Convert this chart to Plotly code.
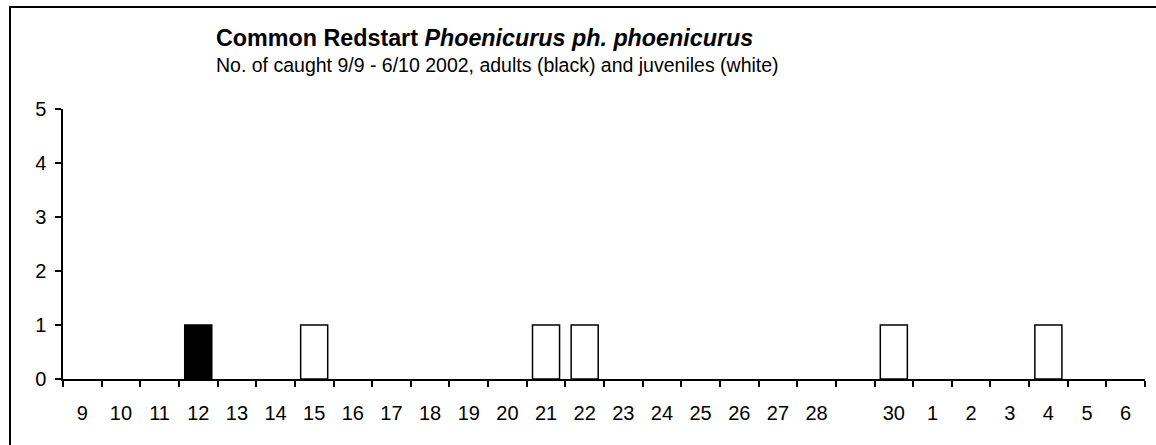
import plotly.graph_objects as go

categories = ["9", "10", "11", "12", "13", "14", "15", "16", "17", "18", "19", "20",
              "21", "22", "23", "24", "25", "26", "27", "28", "29", "30",
              "1", "2", "3", "4", "5", "6"]
tick_labels = ["9", "10", "11", "12", "13", "14", "15", "16", "17", "18", "19", "20",
               "21", "22", "23", "24", "25", "26", "27", "28", "", "30",
               "1", "2", "3", "4", "5", "6"]
adults = [0, 0, 0, 1, 0, 0, 0, 0, 0, 0, 0, 0, 0, 0, 0, 0, 0, 0, 0, 0, 0, 0, 0, 0, 0, 0, 0, 0]
juveniles = [0, 0, 0, 0, 0, 0, 1, 0, 0, 0, 0, 0, 1, 1, 0, 0, 0, 0, 0, 0, 0, 1, 0, 0, 0, 1, 0, 0]
y_ticks = [0, 1, 2, 3, 4, 5]

W, H = 1156, 445
L, R, T, B = 63, 1145, 109, 379  # plot area in pixels


def px(x):
    return (x - L) / (R - L)


def py(y):
    return (B - y) / (B - T)


FONT = "Liberation Sans, Arial, sans-serif"


def outline(vals):
    return [1.5 if v else 0 for v in vals]


fig = go.Figure()
fig.add_trace(go.Bar(x=categories, y=adults, name="adults",
                     marker=dict(color="black", line=dict(color="black", width=outline(adults))),
                     width=0.7))
fig.add_trace(go.Bar(x=categories, y=juveniles, name="juveniles",
                     marker=dict(color="white", line=dict(color="black", width=outline(juveniles))),
                     width=0.7))

fig.update_layout(
    width=W, height=H,
    margin=dict(l=L, r=W - R, t=T, b=H - B, autoexpand=False),
    barmode="overlay",
    showlegend=False,
    plot_bgcolor="white", paper_bgcolor="white",
    font=dict(family=FONT, size=20, color="black"),
)
fig.update_xaxes(
    type="category", categoryorder="array", categoryarray=categories,
    tickmode="array", tickvals=categories, ticktext=tick_labels,
    tickson="boundaries", ticks="outside", ticklen=6, tickwidth=1.5, tickcolor="black",
    showline=True, linecolor="black", linewidth=1.5, showgrid=False, zeroline=False,
    ticklabelstandoff=15, tickfont=dict(size=20),
    range=[-0.5, len(categories) - 0.5],
)
fig.update_yaxes(
    range=[0, 5], tickmode="array", tickvals=y_ticks,
    ticks="outside", ticklen=6, tickwidth=1.5, tickcolor="black",
    showline=True, linecolor="black", linewidth=1.5, showgrid=False, zeroline=False,
    tickfont=dict(size=20), ticklabelstandoff=5,
)

fig.add_annotation(xref="paper", yref="paper", x=px(214), y=py(38), xanchor="left", yanchor="middle",
                   text="<b>Common Redstart <i>Phoenicurus ph. phoenicurus</i></b>",
                   showarrow=False, font=dict(size=23.3, family=FONT))
fig.add_annotation(xref="paper", yref="paper", x=px(214), y=py(65), xanchor="left", yanchor="middle",
                   text="No. of caught 9/9 - 6/10 2002, adults (black) and juveniles (white)",
                   showarrow=False, font=dict(size=19.5, family=FONT))

fig.add_shape(type="rect", xref="paper", yref="paper",
              x0=px(10), x1=px(1175), y0=py(470), y1=py(7),
              line=dict(color="black", width=2), fillcolor="rgba(0,0,0,0)", layer="below")

fig.write_html("out.html", config={"displayModeBar": False},
               post_script="document.body.style.margin='0';")
